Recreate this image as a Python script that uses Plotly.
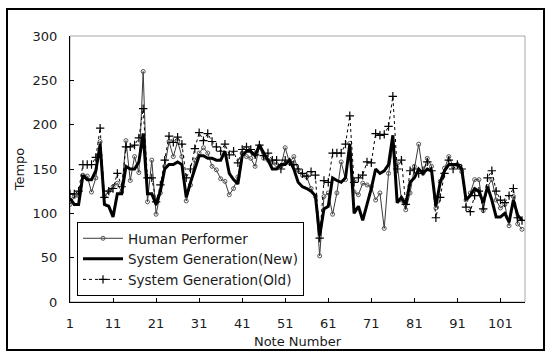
import plotly.graph_objects as go

notes = list(range(1, 107))

human = [110, 119, 120, 143, 142, 124, 140, 181, 119, 125,
         130, 134, 124, 182, 137, 164, 146, 260, 113, 160,
         99, 123, 153, 181, 164, 181, 164, 114, 132, 160,
         168, 174, 168, 153, 149, 139, 136, 121, 128, 141,
         168, 164, 162, 153, 175, 162, 160, 157, 155, 153,
         174, 157, 164, 149, 143, 141, 128, 119, 52, 119,
         123, 99, 123, 158, 138, 179, 124, 121, 134, 132,
         130, 115, 123, 83, 145, 175, 156, 115, 104, 123,
         153, 178, 145, 162, 153, 106, 136, 151, 164, 153,
         155, 147, 115, 123, 138, 138, 103, 130, 138, 115,
         106, 110, 86, 119, 88, 82]

sys_new = [117, 110, 110, 143, 138, 138, 148, 178, 110, 108,
           96, 122, 122, 153, 150, 150, 158, 190, 122, 122,
           110, 125, 150, 155, 155, 158, 155, 118, 135, 150,
           165, 165, 162, 162, 160, 160, 170, 145, 138, 133,
           165, 170, 170, 165, 177, 168, 160, 150, 150, 155,
           155, 160, 150, 135, 130, 128, 125, 120, 75, 105,
           108, 140, 137, 135, 140, 178, 100, 108, 92, 110,
           128, 150, 145, 148, 155, 188, 112, 118, 110, 135,
           140, 150, 145, 150, 148, 108, 135, 148, 155, 155,
           155, 150, 115, 120, 128, 125, 112, 130, 115, 96,
           96, 100, 90, 115, 98, 92]

sys_old = [122, 122, 125, 155, 155, 155, 163, 196, 118, 125,
           128, 145, 130, 175, 175, 177, 185, 218, 140, 140,
           113, 132, 160, 187, 180, 186, 178, 140, 150, 173,
           191, 182, 190, 181, 175, 170, 178, 166, 170, 157,
           172, 175, 172, 166, 177, 165, 168, 160, 160, 150,
           160, 158, 155, 150, 145, 142, 147, 143, 72, 137,
           135, 168, 168, 168, 178, 210, 135, 140, 143, 158,
           157, 190, 188, 189, 198, 232, 150, 160, 110, 148,
           150, 145, 148, 158, 148, 95, 118, 145, 160, 150,
           155, 150, 107, 102, 120, 125, 105, 140, 148, 125,
           115, 112, 120, 128, 95, 92]

x_ticks = [1, 11, 21, 31, 41, 51, 61, 71, 81, 91, 101]
y_ticks = [0, 50, 100, 150, 200, 250, 300]

FONT = "DejaVu Sans"
TXT = "#1a1a1a"

fig = go.Figure()
fig.add_trace(go.Scatter(
    x=notes, y=human, mode="lines+markers", name="Human Performer",
    line=dict(color="#3a3a3a", width=1),
    marker=dict(symbol="circle-open", size=4, color="#555555", line=dict(width=1)),
))
fig.add_trace(go.Scatter(
    x=notes, y=sys_new, mode="lines", name="System Generation(New)",
    line=dict(color="black", width=3),
))
fig.add_trace(go.Scatter(
    x=notes, y=sys_old, mode="lines+markers", name="System Generation(Old)",
    line=dict(color="black", width=1, dash="3px,3px"),
    marker=dict(symbol="cross-thin-open", size=6, color="black", line=dict(width=1.2)),
))

# plot-area frame (gray) and outer border
fig.add_shape(type="rect", xref="paper", yref="paper", x0=0, x1=1, y0=0, y1=1,
              line=dict(color="#a8a8a8", width=1), layer="below")
fig.add_shape(type="rect", xref="paper", yref="paper",
              x0=(7 - 70) / 455, x1=(544 - 70) / 455,
              y0=(302 - 350) / 266, y1=(302 - 9) / 266,
              line=dict(color="black", width=2))

fig.update_layout(
    width=547, height=359,
    margin=dict(l=70, r=22, t=36, b=57),
    paper_bgcolor="white", plot_bgcolor="white",
    font=dict(family=FONT, size=13, color=TXT),
    showlegend=True,
    legend=dict(x=(77 - 70) / 455, y=(302 - 222) / 266, xanchor="left", yanchor="top",
                bgcolor="white", bordercolor="black", borderwidth=1,
                font=dict(family=FONT, size=13.5, color=TXT),
                itemwidth=40, tracegroupgap=0),
    xaxis=dict(range=[1, 106.7], tickmode="array", tickvals=x_ticks,
               ticktext=[str(v) for v in x_ticks],
               ticks="inside", ticklen=4, tickcolor="black",
               showline=True, linecolor="black", linewidth=1,
               showgrid=False, zeroline=False, ticklabelstandoff=9,
               title=dict(text="Note Number", standoff=7,
                          font=dict(family=FONT, size=13, color=TXT))),
    yaxis=dict(range=[0, 300], tickmode="array", tickvals=y_ticks,
               ticks="inside", ticklen=4, tickcolor="black",
               showline=True, linecolor="black", linewidth=1,
               showgrid=False, zeroline=False, ticklabelstandoff=9,
               title=dict(text="Tempo", standoff=5,
                          font=dict(family=FONT, size=13, color=TXT))),
)

fig.write_html("out.html")
